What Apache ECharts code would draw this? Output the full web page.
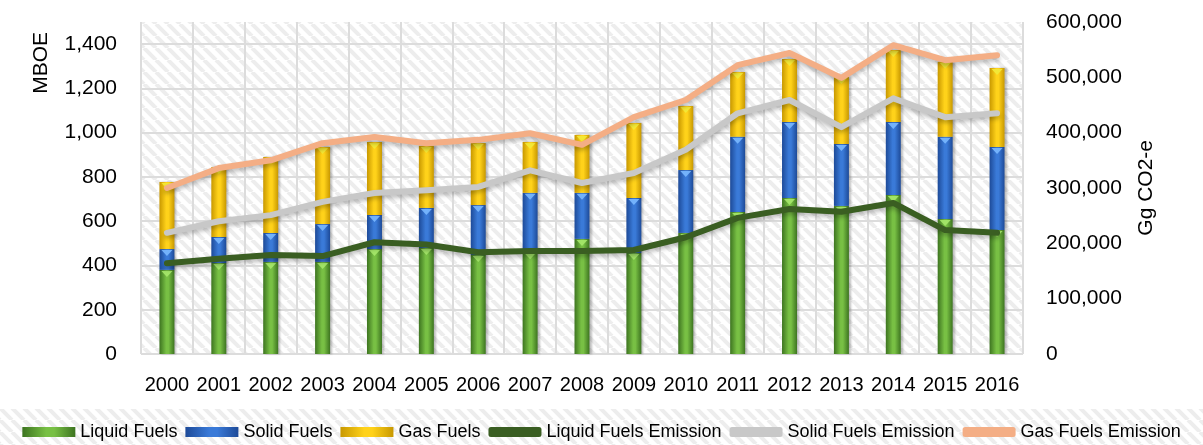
<!DOCTYPE html>
<html>
<head>
<meta charset="utf-8">
<script src="https://cdn.jsdelivr.net/npm/echarts@6/dist/echarts.min.js"></script>
<style>
  html, body { margin: 0; padding: 0; background: #fff; }
  #main { width: 1203px; height: 445px; }
</style>
</head>
<body>
<div id="main"></div>
<script>
// years on the x axis
const years = ['2000', '2001', '2002', '2003', '2004', '2005', '2006', '2007', '2008',
  '2009', '2010', '2011', '2012', '2013', '2014', '2015', '2016'];

// energy use, MBOE (stacked bars, left axis)
const liquidFuels = [380, 411, 416, 416, 474, 479, 447, 460, 520, 456, 547, 642, 705, 669, 718, 610, 560];
const solidFuels  = [94, 118, 131, 171, 154, 181, 226, 268, 208, 249, 284, 339, 343, 280, 330, 371, 375];
const gasFuels    = [303, 316, 343, 348, 330, 280, 280, 230, 262, 339, 290, 293, 285, 303, 326, 339, 357];

// emissions, Gg CO2-e (lines, right axis)
const liquidEmission = [164000, 172000, 179000, 177000, 202000, 198000, 184000, 186000, 186000, 188000, 211000, 246000, 262000, 257000, 273000, 224000, 219000];
const solidEmission  = [219000, 240000, 251000, 275000, 291000, 296000, 302000, 332000, 309000, 327000, 369000, 435000, 459000, 410000, 462000, 428000, 435000];
const gasEmission    = [300000, 336000, 350000, 381000, 392000, 381000, 387000, 399000, 378000, 428000, 459000, 522000, 544000, 499000, 558000, 531000, 540000];

// diagonal hatch used behind the plot and the legend
function hatch() {
  const s = 12;
  const c = document.createElement('canvas');
  c.width = s; c.height = s;
  const g = c.getContext('2d');
  g.fillStyle = '#ffffff';
  g.fillRect(0, 0, s, s);
  g.strokeStyle = '#ededed';
  g.lineWidth = 4;
  [-s, 0, s].forEach(function (x0) {
    g.beginPath();
    g.moveTo(x0, 0);
    g.lineTo(x0 + s, s);
    g.stroke();
  });
  return { image: c, repeat: 'repeat' };
}

function barFill(edge, mid) {
  return new echarts.graphic.LinearGradient(0, 0, 1, 0, [
    { offset: 0, color: edge },
    { offset: 0.45, color: mid },
    { offset: 0.6, color: mid },
    { offset: 1, color: edge }
  ]);
}

// running totals, so the little bevel triangles sit on each segment top
function cumulate(...parts) {
  return parts[0].map(function (_, i) {
    return parts.reduce(function (s, p) { return s + p[i]; }, 0);
  });
}

const chart = echarts.init(document.getElementById('main'));
const font = 'Liberation Sans';
const gridLine = ['#dcdcdc', '#dcdcdc', '#dcdcdc', '#dcdcdc', '#dcdcdc', '#dcdcdc', '#dcdcdc', '#dcdcdc', 'rgba(0,0,0,0)'];

function barSeries(name, data, edge, mid) {
  return {
    name: name,
    type: 'bar',
    stack: 'fuel',
    barWidth: 15,
    data: data,
    itemStyle: {
      color: barFill(edge, mid),
      shadowColor: 'rgba(0,0,0,0.25)',
      shadowBlur: 2,
      shadowOffsetX: 2
    }
  };
}

function capSeries(data, color) {
  return {
    type: 'scatter',
    data: data,
    symbol: 'triangle',
    symbolRotate: 180,
    symbolSize: [11, 6],
    symbolOffset: [0, 4],
    z: 3,
    silent: true,
    itemStyle: { color: color, opacity: 0.9 }
  };
}

function lineSeries(name, data, color) {
  return {
    name: name,
    type: 'line',
    yAxisIndex: 1,
    data: data,
    symbol: 'none',
    z: 5,
    itemStyle: { color: color },
    lineStyle: {
      width: 6,
      color: color,
      cap: 'round',
      join: 'round',
      shadowColor: 'rgba(0,0,0,0.25)',
      shadowBlur: 4,
      shadowOffsetY: 3
    }
  };
}

chart.setOption({
  animation: false,
  textStyle: { fontFamily: font },
  grid: {
    left: 141, right: 180, top: 22, bottom: 91,
    show: true,
    borderWidth: 0,
    backgroundColor: hatch()
  },
  graphic: [
    {
      type: 'rect', z: -10, silent: true,
      shape: { x: 0, y: 409, width: 1203, height: 36 },
      style: { fill: hatch() }
    },
    {
      type: 'text', left: 31, top: 32, rotation: Math.PI / 2,
      style: { text: 'MBOE', font: '21px "Liberation Sans"', fill: '#000' }
    },
    {
      type: 'text', left: 1136, top: 140, rotation: Math.PI / 2,
      style: { text: 'Gg CO2-e', font: '21px "Liberation Sans"', fill: '#000' }
    }
  ],
  legend: {
    left: 'center',
    top: 418,
    itemWidth: 53,
    itemHeight: 10,
    itemGap: 8,
    textStyle: { fontSize: 18, color: '#000', fontFamily: font },
    data: [
      { name: 'Liquid Fuels', icon: 'rect' },
      { name: 'Solid Fuels', icon: 'rect' },
      { name: 'Gas Fuels', icon: 'rect' },
      { name: 'Liquid Fuels Emission', icon: 'roundRect' },
      { name: 'Solid Fuels Emission', icon: 'roundRect' },
      { name: 'Gas Fuels Emission', icon: 'roundRect' }
    ]
  },
  xAxis: {
    type: 'category',
    data: years,
    axisLine: { show: false },
    axisTick: { show: false },
    axisLabel: { interval: 0, margin: 21, fontSize: 20, color: '#000' },
    splitLine: { show: true, interval: 0, lineStyle: { color: '#dcdcdc', width: 2 } }
  },
  yAxis: [
    {
      type: 'value',
      min: 0, max: 1500, interval: 200,
      axisLine: { show: false },
      axisTick: { show: false },
      axisLabel: {
        margin: 24, fontSize: 21, color: '#000', showMaxLabel: false,
        formatter: function (v) { return v.toLocaleString('en-US'); }
      },
      splitLine: { lineStyle: { color: gridLine, width: 2 } }
    },
    {
      type: 'value',
      min: 0, max: 600000, interval: 100000,
      axisLine: { show: false },
      axisTick: { show: false },
      axisLabel: {
        margin: 23, fontSize: 21, color: '#000',
        formatter: function (v) { return v.toLocaleString('en-US'); }
      },
      splitLine: { show: false }
    }
  ],
  series: [
    barSeries('Liquid Fuels', liquidFuels, '#3d7420', '#78c044'),
    barSeries('Solid Fuels', solidFuels, '#1d4a98', '#3a7ad8'),
    barSeries('Gas Fuels', gasFuels, '#c89800', '#ffd21a'),
    capSeries(cumulate(liquidFuels), '#a6e86c'),
    capSeries(cumulate(liquidFuels, solidFuels), '#7ab8ff'),
    capSeries(cumulate(liquidFuels, solidFuels, gasFuels), '#f2ea3a'),
    lineSeries('Liquid Fuels Emission', liquidEmission, '#3a5e22'),
    lineSeries('Solid Fuels Emission', solidEmission, '#c8c8c8'),
    lineSeries('Gas Fuels Emission', gasEmission, '#f4ae85')
  ]
});
</script>
</body>
</html>
